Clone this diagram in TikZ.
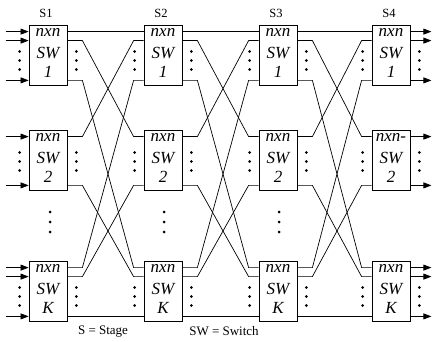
\documentclass[tikz,border=0pt]{standalone}
\usepackage{fontspec}
\setmainfont{Liberation Serif}
\usetikzlibrary{arrows.meta,calc}
\tikzset{
  swbox/.style={draw, line width=0.8pt, minimum width=38pt, minimum height=60pt, inner sep=0pt},
  swt/.style={font=\itshape\fontsize{17}{18}\selectfont, anchor=base, inner sep=0pt},
  wire/.style={line width=0.7pt},
  arr/.style={line width=0.7pt, -{Triangle[length=8pt,width=6pt]}},
  stg/.style={font=\fontsize{12.5}{14}\selectfont, inner sep=0pt},
  leg/.style={font=\fontsize{13}{15}\selectfont, inner sep=0pt},
  vd/.pic={\foreach \d in {-9,0,9} \fill (0,\d) circle (1.5pt);}
}
\begin{document}
\begin{tikzpicture}[x=1pt,y=-1pt]
\fill[white] (0,0) rectangle (434,342);
\useasboundingbox (0,0) rectangle (434,342);

% switches
\foreach \s/\x/\m in {1/48/nxn, 2/163/nxn, 3/278/nxn, 4/391/nxn-} {
  \node[stg] (lab\s) at (\x-2,13) {S\s};
  \foreach \r/\y/\t/\n/\dy in {1/55/1/nxn/-5.5pt, 2/160/2/\m/-1.5pt, k/291/K/nxn/-5.5pt} {
    \node[swbox] (s\s-\r) at (\x,\y) {};
    \node[swt] (s\s-\r-t1) at ([yshift=18.5pt]s\s-\r.center) {\n};
    \node[swt] (s\s-\r-t2) at ([yshift=-3.5pt]s\s-\r.center) {SW};
    \node[swt] (s\s-\r-t3) at ([yshift=-22.5pt]s\s-\r.center) {\t};
    \coordinate (s\s-\r-ia) at ([yshift=-7pt]s\s-\r.north west);
    \coordinate (s\s-\r-ib) at ([yshift=-16pt]s\s-\r.north west);
    \coordinate (s\s-\r-ic) at ([yshift=5pt]s\s-\r.south west);
    \coordinate (s\s-\r-oa) at ([yshift=-7pt]s\s-\r.north east);
    \coordinate (s\s-\r-ob) at ([yshift=-16pt]s\s-\r.north east);
    \coordinate (s\s-\r-oc) at ([yshift=5pt]s\s-\r.south east);
    \pic at ([xshift=-9pt,yshift=\dy]s\s-\r.west) {vd};
    \pic at ([xshift=9pt,yshift=\dy]s\s-\r.east) {vd};
  }
}

% dots between rows
\foreach \x in {50,164,279} {
  \foreach \d in {212,222,232} \fill (\x,\d) circle (1.5pt);
}

% interstage links
\foreach \s/\t in {1/2,2/3,3/4} {
  \draw[wire] (s\s-1-oa) -- (s\t-1-ia);
  \draw[wire] (s\s-k-oc) -- (s\t-k-ic);
  \foreach \f/\g in {1-ob/2-ia, 1-oc/k-ia, 2-oa/1-ib, 2-oc/k-ib, k-oa/1-ic, k-ob/2-ic} {
    \draw[wire] (s\s-\f) -- ++(15,0) -- ([xshift=-10pt]s\t-\g) -- (s\t-\g);
  }
}

% inputs and outputs
\foreach \r/\q in {1/a,1/b,1/c,2/a,2/c,k/a,k/b,k/c} {
  \draw[arr] ([xshift=-23pt]s1-\r-i\q) -- (s1-\r-i\q);
  \draw[arr] (s4-\r-o\q) -- ([xshift=21pt]s4-\r-o\q);
}

% legend
\node[leg] (leg1) at (103,332) {S = Stage};
\node[leg] (leg2) at (224,331) {SW = Switch};
\end{tikzpicture}
\end{document}
